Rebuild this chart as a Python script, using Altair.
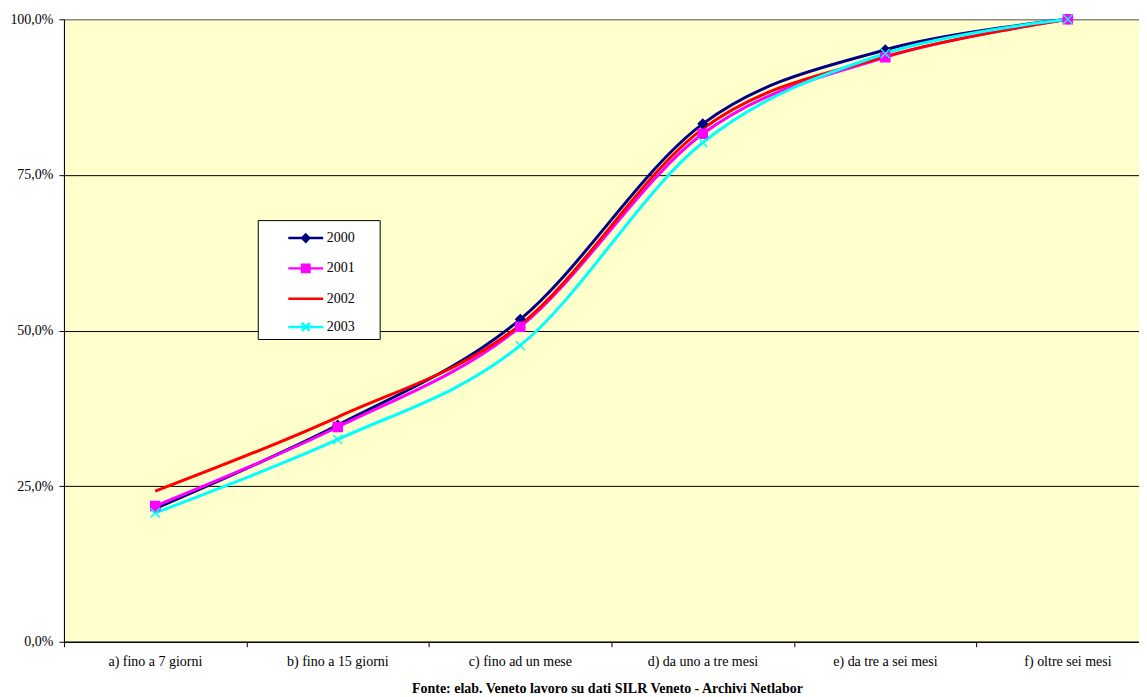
import json
import altair as alt
import pandas as pd

FONT = "Liberation Serif"

categorie = ["a) fino a 7 giorni", "b) fino a 15 giorni", "c) fino ad un mese",
             "d) da uno a tre mesi", "e) da tre a sei mesi", "f) oltre sei mesi"]
anni = ["2000", "2001", "2002", "2003"]
v2000 = [21.4, 34.8, 51.8, 83.2, 95.1, 100.0]
v2001 = [21.8, 34.5, 50.6, 81.6, 93.9, 100.0]
v2002 = [24.2, 36.1, 50.9, 82.4, 94.0, 100.0]
v2003 = [20.7, 32.5, 47.6, 80.2, 94.5, 100.0]
colori = ["#000080", "#FF00FF", "#FF0000", "#00FFFF"]

serie = [v2000, v2001, v2002, v2003]
rows = []
for anno, vals in zip(anni, serie):
    for i, (c, v) in enumerate(zip(categorie, vals)):
        rows.append({"anno": anno, "pos": i, "categoria": c, "valore": v})
df = pd.DataFrame(rows)

W, H = 1076, 623

cats_js = json.dumps(categorie)
x_enc = alt.X(
    "pos:Q",
    scale=alt.Scale(domain=[-0.5, 5.39], nice=False, zero=False),
    axis=alt.Axis(
        values=[-0.5, 0.5, 1.5, 2.5, 3.5, 4.5],
        labelExpr=f"{cats_js}[round(datum.value + 0.5)]",
        labelOffset=91, labelFlush=False, labelOverlap=False, labelBound=False,
        grid=False, title=None, tickSize=5, tickColor="black", domainColor="black",
        labelFont=FONT, labelFontSize=14, labelColor="black", labelPadding=8,
    ),
)
y_enc = alt.Y(
    "valore:Q",
    scale=alt.Scale(domain=[0, 100], nice=False),
    axis=alt.Axis(
        values=[0, 25, 50, 75, 100],
        labelExpr="replace(format(datum.value, '.1f'), '.', ',') + '%'",
        title=None, grid=True,
        gridColor={"condition": {"test": "datum.value === 100", "value": "#808080"}, "value": "black"},
        gridWidth=1, tickSize=5, tickColor="black", domainColor="black",
        labelFont=FONT, labelFontSize=14, labelColor="black", labelPadding=6,
    ),
)

col_scale = alt.Scale(domain=anni, range=colori)

linee = alt.Chart(df).mark_line(interpolate="cardinal", strokeWidth=3).encode(
    x=x_enc, y=y_enc,
    stroke=alt.Stroke("anno:N", scale=col_scale, legend=None),
    order="pos:Q",
)

XPATH = "M-1,-1L1,1M-1,1L1,-1"
punti_df = df[df.anno != "2002"]
punti = alt.Chart(punti_df).mark_point(size=81, strokeWidth=1.5, opacity=1).encode(
    x=x_enc, y=y_enc,
    shape=alt.Shape("anno:N", scale=alt.Scale(domain=["2000", "2001", "2003"],
                                              range=["diamond", "square", XPATH]), legend=None),
    fill=alt.Fill("anno:N", scale=col_scale, legend=None),
    stroke=alt.Stroke("anno:N", scale=col_scale, legend=None),
)

# legend symbols: line + marker (path units = sqrt(size)/2 px)
S = 756
leg_paths = [
    "M-1.27,0H1.27M0,-0.26L0.26,0L0,0.26L-0.26,0Z",
    "M-1.27,0H1.27M-0.27,-0.27H0.27V0.27H-0.27Z",
    "M-1.27,0H1.27",
    "M-1.27,0H1.27M-0.29,-0.29L0.29,0.29M-0.29,0.29L0.29,-0.29",
]
leg = alt.Legend(
    orient="none", legendX=194, legendY=201,
    title=" ", titleOrient="right", titlePadding=22,
    titleFont=FONT, titleFontSize=14,
    symbolSize=S, symbolStrokeWidth=2.5, symbolOffset=30, labelOffset=6,
    padding=3, rowPadding=6.3, fillColor="white", strokeColor="black",
    labelFont=FONT, labelFontSize=14, labelColor="black",
)
leg_layer = alt.Chart(pd.DataFrame({"anno": anni})).transform_filter("false").mark_point(
    size=S, strokeWidth=2.5, opacity=1
).encode(
    shape=alt.Shape("anno:N", scale=alt.Scale(domain=anni, range=leg_paths), legend=leg),
    fill=alt.Fill("anno:N", scale=col_scale, legend=leg),
    stroke=alt.Stroke("anno:N", scale=col_scale, legend=leg),
)

chart = alt.layer(linee, punti, leg_layer).resolve_scale(
    shape="independent", fill="independent", stroke="independent"
).properties(
    width=W, height=H,
    background="white",
    view=alt.ViewBackground(fill="#FFFFCC", stroke="#808080"),
    autosize=alt.AutoSizeParams(type="none"),
    padding={"left": 56, "top": 11, "right": 0, "bottom": 58},
    title=alt.TitleParams(
        "Fonte: elab. Veneto lavoro su dati SILR Veneto - Archivi Netlabor",
        orient="bottom", anchor="middle", font=FONT, fontSize=14, fontWeight="bold",
        color="black", offset=13, dx=6,
    ),
).configure_view(fill="#FFFFCC", stroke="#808080")

chart.save("out.html", embed_options={"renderer": "svg", "actions": False})
